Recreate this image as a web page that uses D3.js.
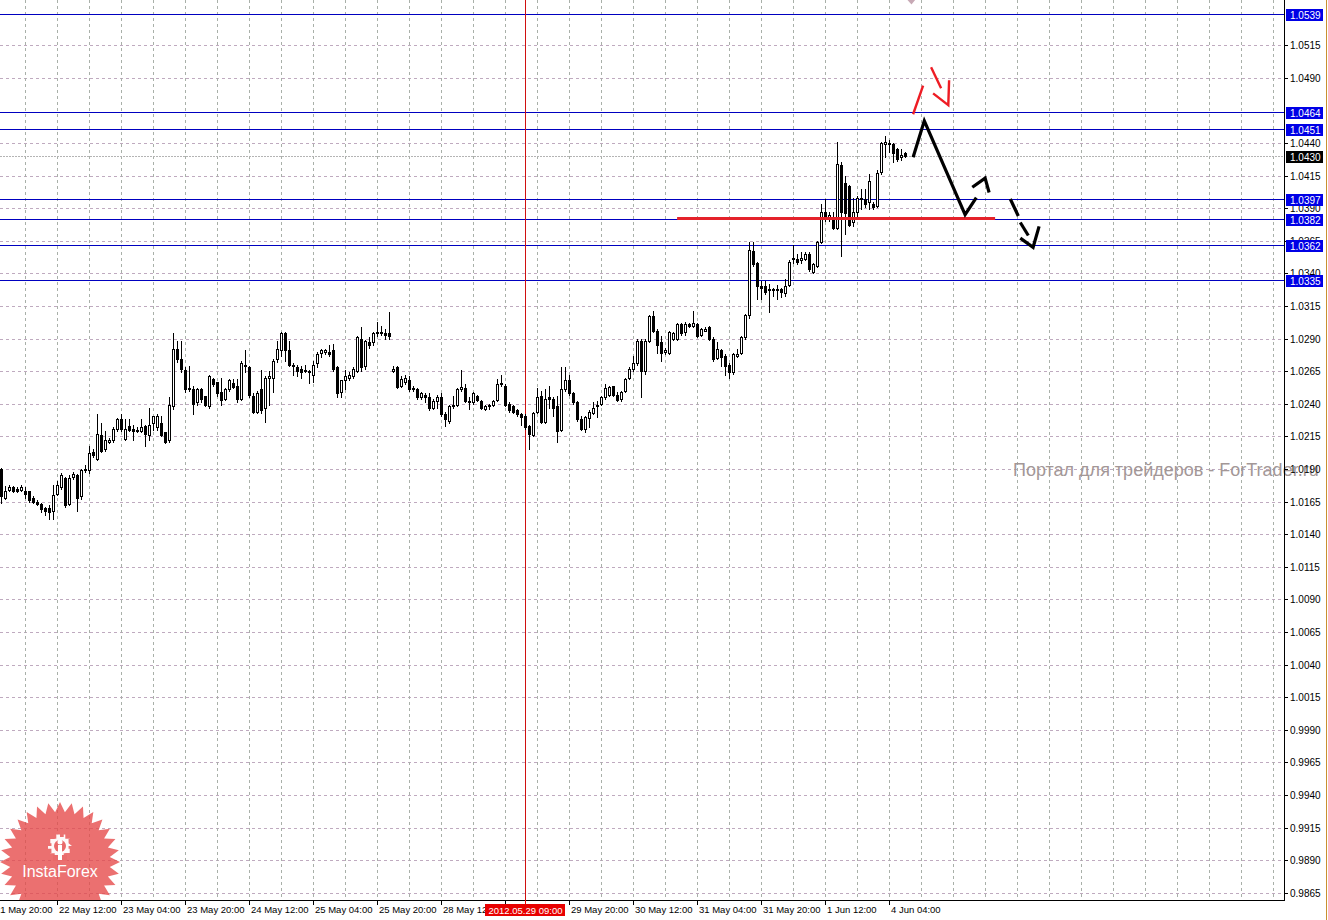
<!DOCTYPE html>
<html><head><meta charset="utf-8">
<script src="https://cdn.jsdelivr.net/npm/d3@7"></script>
<style>html,body{margin:0;padding:0;background:#fff;overflow:hidden}</style>
</head><body><svg id="c" width="1328" height="920"></svg>
<script>
// ---- data: hourly candles (bar index 0..226) ----
const opens = [1.0190,1.0168,1.0174,1.0176,1.0175,1.0174,1.0173,1.0173,1.0168,1.0165,1.0163,1.0160,1.0160,1.0158,1.0171,1.0176,1.0183,1.0163,1.0184,1.0185,1.0169,1.0189,1.0189,1.0203,1.0198,1.0216,1.0205,1.0211,1.0212,1.0221,1.0228,1.0213,1.0223,1.0221,1.0220,1.0219,1.0223,1.0216,1.0225,1.0222,1.0225,1.0218,1.0212,1.0238,1.0282,1.0274,1.0266,1.0252,1.0251,1.0241,1.0251,1.0246,1.0238,1.0259,1.0257,1.0249,1.0244,1.0251,1.0256,1.0254,1.0244,1.0269,1.0268,1.0246,1.0234,1.0251,1.0237,1.0260,1.0260,1.0274,1.0281,1.0294,1.0281,1.0270,1.0268,1.0267,1.0265,1.0265,1.0262,1.0271,1.0279,1.0280,1.0280,1.0281,1.0268,1.0249,1.0258,1.0260,1.0261,1.0265,1.0290,1.0269,1.0287,1.0287,1.0294,1.0295,1.0294,1.0294,1.0265,1.0268,
1.0254,1.0257,1.0258,1.0252,1.0251,1.0245,1.0247,1.0245,1.0237,1.0242,1.0245,1.0232,1.0227,1.0238,1.0239,1.0251,1.0252,1.0242,1.0241,1.0246,1.0242,1.0236,1.0238,1.0239,1.0243,1.0255,1.0254,1.0240,1.0238,1.0235,1.0232,1.0231,1.0223,1.0216,1.0234,1.0246,1.0226,1.0245,1.0244,1.0238,1.0220,1.0251,1.0258,1.0248,1.0241,1.0228,1.0221,1.0229,1.0233,1.0238,1.0240,1.0245,1.0247,1.0254,1.0247,1.0244,1.0250,1.0260,1.0267,1.0271,1.0288,1.0265,1.0288,1.0307,1.0296,1.0287,1.0280,1.0279,1.0290,1.0290,1.0301,1.0295,1.0301,1.0300,1.0301,1.0293,1.0296,1.0299,1.0290,1.0275,1.0281,1.0277,1.0270,1.0264,1.0277,1.0279,1.0291,
1.0308,1.0357,1.0348,1.0330,1.0330,1.0327,1.0328,1.0327,1.0328,1.0325,1.0331,1.0351,1.0351,1.0350,1.0351,1.0355,1.0341,1.0346,1.0364,1.0387,1.0383,1.0382,1.0375,1.0423,1.0409,1.0407,1.0379,1.0387,1.0398,1.0397,1.0395,1.0393,1.0392,1.0418,1.0439,1.0440,1.0439,1.0435,1.0429,1.0432];
const highs = [1.0191,1.0177,1.0178,1.0177,1.0176,1.0178,1.0176,1.0173,1.0169,1.0166,1.0164,1.0161,1.0162,1.0178,1.0181,1.0187,1.0184,1.0185,1.0188,1.0186,1.0190,1.0193,1.0208,1.0205,1.0232,1.0225,1.0219,1.0214,1.0222,1.0229,1.0232,1.0228,1.0228,1.0224,1.0222,1.0228,1.0224,1.0237,1.0231,1.0232,1.0231,1.0218,1.0245,1.0294,1.0288,1.0288,1.0268,1.0269,1.0254,1.0252,1.0252,1.0246,1.0262,1.0260,1.0257,1.0260,1.0252,1.0259,1.0259,1.0259,1.0273,1.0281,1.0269,1.0248,1.0250,1.0266,1.0261,1.0265,1.0274,1.0288,1.0295,1.0295,1.0288,1.0271,1.0270,1.0269,1.0270,1.0266,1.0273,1.0280,1.0282,1.0282,1.0285,1.0286,1.0269,1.0258,1.0266,1.0264,1.0268,1.0292,1.0299,1.0289,1.0291,1.0295,1.0303,1.0300,1.0297,1.0310,1.0269,1.0269,
1.0261,1.0262,1.0261,1.0254,1.0252,1.0249,1.0248,1.0248,1.0244,1.0247,1.0248,1.0234,1.0239,1.0246,1.0252,1.0266,1.0255,1.0245,1.0249,1.0247,1.0243,1.0239,1.0240,1.0243,1.0259,1.0262,1.0255,1.0241,1.0239,1.0236,1.0233,1.0232,1.0224,1.0234,1.0252,1.0250,1.0251,1.0254,1.0245,1.0246,1.0268,1.0268,1.0262,1.0249,1.0242,1.0231,1.0231,1.0235,1.0241,1.0242,1.0246,1.0255,1.0254,1.0254,1.0249,1.0250,1.0260,1.0268,1.0277,1.0290,1.0290,1.0290,1.0308,1.0311,1.0297,1.0292,1.0283,1.0296,1.0295,1.0302,1.0302,1.0303,1.0302,1.0311,1.0302,1.0298,1.0299,1.0300,1.0291,1.0287,1.0282,1.0278,1.0271,1.0279,1.0282,1.0292,1.0309,
1.0364,1.0364,1.0349,1.0334,1.0334,1.0332,1.0329,1.0331,1.0329,1.0336,1.0350,1.0362,1.0355,1.0356,1.0356,1.0356,1.0348,1.0365,1.0393,1.0397,1.0387,1.0387,1.0441,1.0425,1.0415,1.0408,1.0398,1.0399,1.0405,1.0405,1.0416,1.0395,1.0419,1.0441,1.0445,1.0442,1.0440,1.0436,1.0435,1.0433];
const lows = [1.0164,1.0167,1.0173,1.0172,1.0172,1.0173,1.0168,1.0165,1.0164,1.0162,1.0157,1.0155,1.0152,1.0152,1.0170,1.0175,1.0161,1.0162,1.0182,1.0158,1.0167,1.0188,1.0187,1.0199,1.0197,1.0203,1.0204,1.0210,1.0211,1.0219,1.0219,1.0212,1.0219,1.0212,1.0218,1.0218,1.0208,1.0212,1.0220,1.0220,1.0215,1.0210,1.0211,1.0236,1.0272,1.0264,1.0249,1.0250,1.0232,1.0239,1.0241,1.0238,1.0237,1.0254,1.0246,1.0239,1.0243,1.0250,1.0252,1.0241,1.0243,1.0264,1.0245,1.0233,1.0233,1.0233,1.0226,1.0239,1.0249,1.0272,1.0277,1.0273,1.0269,1.0262,1.0261,1.0260,1.0264,1.0256,1.0257,1.0268,1.0276,1.0278,1.0277,1.0265,1.0245,1.0245,1.0251,1.0258,1.0260,1.0264,1.0265,1.0267,1.0283,1.0285,1.0292,1.0293,1.0290,1.0290,1.0264,1.0252,
1.0253,1.0255,1.0250,1.0250,1.0244,1.0244,1.0241,1.0235,1.0236,1.0237,1.0231,1.0223,1.0225,1.0237,1.0238,1.0250,1.0241,1.0236,1.0240,1.0242,1.0236,1.0235,1.0236,1.0238,1.0242,1.0254,1.0238,1.0234,1.0233,1.0231,1.0224,1.0221,1.0205,1.0215,1.0233,1.0225,1.0225,1.0237,1.0231,1.0211,1.0219,1.0250,1.0247,1.0240,1.0227,1.0220,1.0218,1.0222,1.0232,1.0230,1.0239,1.0244,1.0246,1.0246,1.0242,1.0242,1.0249,1.0259,1.0265,1.0270,1.0245,1.0263,1.0287,1.0295,1.0279,1.0273,1.0278,1.0278,1.0289,1.0289,1.0293,1.0293,1.0299,1.0299,1.0291,1.0292,1.0296,1.0289,1.0273,1.0274,1.0269,1.0262,1.0260,1.0263,1.0276,1.0278,1.0290,
1.0306,1.0346,1.0320,1.0320,1.0324,1.0310,1.0323,1.0320,1.0322,1.0323,1.0330,1.0348,1.0347,1.0348,1.0350,1.0342,1.0340,1.0345,1.0363,1.0380,1.0380,1.0374,1.0374,1.0353,1.0370,1.0376,1.0376,1.0383,1.0389,1.0391,1.0389,1.0389,1.0391,1.0416,1.0429,1.0433,1.0425,1.0426,1.0427,1.0429];
const closes = [1.0169,1.0173,1.0176,1.0173,1.0173,1.0176,1.0171,1.0166,1.0165,1.0163,1.0159,1.0158,1.0157,1.0170,1.0178,1.0185,1.0162,1.0183,1.0186,1.0168,1.0189,1.0190,1.0202,1.0201,1.0217,1.0204,1.0212,1.0212,1.0221,1.0228,1.0221,1.0221,1.0220,1.0219,1.0219,1.0222,1.0217,1.0224,1.0231,1.0231,1.0216,1.0211,1.0239,1.0282,1.0274,1.0267,1.0251,1.0251,1.0240,1.0251,1.0244,1.0239,1.0261,1.0255,1.0248,1.0243,1.0251,1.0258,1.0253,1.0244,1.0271,1.0270,1.0247,1.0234,1.0248,1.0235,1.0260,1.0261,1.0273,1.0282,1.0294,1.0281,1.0270,1.0269,1.0265,1.0264,1.0266,1.0264,1.0270,1.0278,1.0281,1.0281,1.0278,1.0267,1.0248,1.0258,1.0261,1.0262,1.0267,1.0291,1.0268,1.0288,1.0285,1.0294,1.0295,1.0294,1.0293,1.0292,1.0267,1.0253,
1.0259,1.0260,1.0251,1.0251,1.0245,1.0248,1.0245,1.0237,1.0242,1.0245,1.0232,1.0228,1.0238,1.0239,1.0251,1.0253,1.0242,1.0241,1.0248,1.0243,1.0237,1.0238,1.0239,1.0242,1.0255,1.0256,1.0239,1.0235,1.0234,1.0232,1.0230,1.0222,1.0217,1.0233,1.0245,1.0226,1.0244,1.0244,1.0237,1.0219,1.0251,1.0258,1.0248,1.0241,1.0228,1.0221,1.0230,1.0234,1.0237,1.0239,1.0245,1.0252,1.0253,1.0247,1.0243,1.0249,1.0259,1.0267,1.0271,1.0288,1.0265,1.0288,1.0307,1.0296,1.0285,1.0279,1.0281,1.0295,1.0294,1.0301,1.0294,1.0301,1.0300,1.0302,1.0292,1.0297,1.0297,1.0290,1.0274,1.0282,1.0276,1.0269,1.0264,1.0278,1.0278,1.0291,1.0308,
1.0358,1.0347,1.0330,1.0329,1.0326,1.0328,1.0327,1.0328,1.0326,1.0330,1.0349,1.0352,1.0349,1.0352,1.0355,1.0343,1.0347,1.0364,1.0387,1.0384,1.0385,1.0375,1.0424,1.0387,1.0386,1.0377,1.0387,1.0398,1.0397,1.0393,1.0411,1.0391,1.0417,1.0440,1.0441,1.0439,1.0432,1.0428,1.0431,1.0430];

const timeLabels = ["21 May 20:00","22 May 12:00","23 May 04:00","23 May 20:00","24 May 12:00","25 May 04:00","25 May 20:00","28 May 12:00","29 May 04:00","29 May 20:00","30 May 12:00","31 May 04:00","31 May 20:00","1 Jun 12:00","4 Jun 04:00"];
const timeLabelBars = [-2,14,30,46,62,78,94,110,126,142,158,174,190,206,222];
const gridBars = [6,14,22,30,38,46,54,62,70,78,86,94,102,110,118,126,134,142,150,158,166,174,182,190,198,206,214,222,230,238,246,254,262,270,278,286,294,302,310,318];
const priceTicks = [0.9865,0.9890,0.9915,0.9940,0.9965,0.9990,1.0015,1.0040,1.0065,1.0090,1.0115,1.0140,1.0165,1.0190,1.0215,1.0240,1.0265,1.0290,1.0315,1.0340,1.0365,1.0390,1.0415,1.0440,1.0490,1.0515];
const levelPrices = [1.0539,1.0464,1.0451,1.0397,1.0382,1.0362,1.0335];
const currentPrice = 1.0430;
const supportLevel = [1.0382, 168.9, 248.4];
const markerBar = 131;
const markerLabel = "2012.05.29 09:00";
const forecastPaths = [
  [[227.9,1.0429],[230.7,1.0457],[240.9,1.0385],[243.7,1.0398]],
  [[242.7,1.0406],[245.9,1.0413],[246.9,1.0402]],
  [[252.2,1.0397],[254.2,1.0384]],
  [[254.7,1.0379],[256.7,1.0369]],
  [[254.7,1.0367],[257.9,1.0360],[259.4,1.0376]]
];
const redPaths = [
  [[227.9,1.0462],[230.4,1.0484]],
  [[232.4,1.0498],[234.9,1.0482]],
  [[232.9,1.0478],[236.7,1.0469],[236.9,1.0488]]
];

// ---- drawing ----
const svg = d3.select("#c");
const W = 1328, H = 920, plotR = 1284, plotB = 900;
const x = d3.scaleLinear().domain([0, 320]).range([1.5, 1281.5]);
const y = d3.scaleLinear().domain([0.98595, 1.05496]).range([plotB, 0]);
const py = v => Math.round(y(v));
const FONT = "'Liberation Sans', Arial, sans-serif";
const AX = 10;

svg.append("rect").attr("width", W).attr("height", H).attr("fill", "#fff");

const plot = svg.append("g");
plot.append("clipPath").attr("id","pc").append("rect").attr("width", plotR).attr("height", plotB);
const pg = plot.append("g").attr("clip-path","url(#pc)");

// grid
pg.selectAll(".hg").data(priceTicks).join("line")
  .attr("x1", 0).attr("x2", plotR)
  .attr("y1", d => py(d) + 0.5).attr("y2", d => py(d) + 0.5)
  .attr("stroke", "#bfaabf").attr("stroke-dasharray", "3,3");
pg.selectAll(".vg").data(gridBars).join("line")
  .attr("x1", d => x(d)).attr("x2", d => x(d))
  .attr("y1", 0).attr("y2", plotB)
  .attr("stroke", "#a9b0a9").attr("stroke-dasharray", "3,3");

// InstaForex starburst logo
const cx0 = 60, cy0 = 862, nPts = 32;
const star = d3.range(nPts * 2).map(k => {
  const r = k % 2 === 0 ? 60 : 50;
  const a = Math.PI * k / nPts - Math.PI / 2;
  return [cx0 + r * Math.cos(a), cy0 + r * Math.sin(a)];
});
pg.append("path").attr("d", d3.line()(star) + "Z").attr("fill", "#e54848").attr("opacity", 0.78);
const gear = d3.range(20).map(k => {
  const r = k % 2 === 0 ? 12 : 9;
  const a = Math.PI * 2 * k / 20;
  return [60 + r * Math.cos(a), 846 + r * Math.sin(a)];
});
pg.append("path").attr("d", d3.line().curve(d3.curveStepAfter)(gear) + "Z").attr("fill", "#fff").attr("opacity", 0.95);
pg.append("circle").attr("cx", 60).attr("cy", 846).attr("r", 6).attr("fill", "#e96a6a");
pg.append("rect").attr("x", 53).attr("y", 855).attr("width", 14).attr("height", 6).attr("fill", "#e96a6a");
pg.append("rect").attr("x", 58).attr("y", 845).attr("width", 4).attr("height", 15).attr("fill", "#fff");
pg.append("circle").attr("cx", 60).attr("cy", 842).attr("r", 2.5).attr("fill", "#fff");
pg.append("text").attr("x", 60).attr("y", 877).attr("text-anchor", "middle")
  .attr("font-family", FONT).attr("font-size", 16).attr("fill", "#fff").text("InstaForex");

// level lines
pg.selectAll(".lvl").data(levelPrices).join("line")
  .attr("x1", 0).attr("x2", plotR)
  .attr("y1", d => py(d) + 0.5).attr("y2", d => py(d) + 0.5)
  .attr("stroke", "#0000c0").attr("stroke-width", 1);
// current price line
pg.append("line").attr("x1", 0).attr("x2", plotR)
  .attr("y1", py(currentPrice) + 0.5).attr("y2", py(currentPrice) + 0.5)
  .attr("stroke", "#b4b4b4").attr("stroke-dasharray", "2,1");
// marker vertical line
pg.append("line").attr("x1", x(markerBar)).attr("x2", x(markerBar))
  .attr("y1", 0).attr("y2", plotB).attr("stroke", "#d01010");

// watermark text
svg.append("text").attr("x", 1013).attr("y", 476)
  .attr("font-family", FONT).attr("font-size", 18).attr("fill", "#a39797")
  .text("Портал для трейдеров - ForTrader.ru");

// candles
const idx = d3.range(opens.length);
const cg = pg.append("g");
cg.selectAll(".wick").data(idx).join("rect")
  .attr("x", i => x(i) - 0.5).attr("width", 1)
  .attr("y", i => py(highs[i])).attr("height", i => py(lows[i]) - py(highs[i]) + 1)
  .attr("fill", "#000");
cg.selectAll(".body").data(idx).join("rect")
  .each(function(i) {
    const o = py(opens[i]), c = py(closes[i]);
    const top = Math.min(o, c), bot = Math.max(o, c);
    const s = d3.select(this);
    if (closes[i] < opens[i] || bot - top < 2) {
      s.attr("x", x(i) - 1.5).attr("width", 3).attr("y", top).attr("height", Math.max(1, bot - top + 1)).attr("fill", "#000");
    } else {
      s.attr("x", x(i) - 1).attr("width", 2).attr("y", top + 0.5).attr("height", bot - top)
        .attr("fill", "#fff").attr("stroke", "#000").attr("stroke-width", 1);
    }
  });

// support line (red)
pg.append("line").attr("x1", x(supportLevel[1])).attr("x2", x(supportLevel[2]))
  .attr("y1", y(supportLevel[0])).attr("y2", y(supportLevel[0]))
  .attr("stroke", "#e4222a").attr("stroke-width", 3);

// forecast annotations
const ln = d3.line().x(d => x(d[0])).y(d => y(d[1]));
pg.selectAll(".fc").data(forecastPaths).join("path")
  .attr("d", ln).attr("fill", "none").attr("stroke", "#000").attr("stroke-width", 3.2)
  .attr("stroke-linejoin", "miter");
pg.selectAll(".rd").data(redPaths).join("path")
  .attr("d", ln).attr("fill", "none").attr("stroke", "#ee1c24").attr("stroke-width", 2.4);
pg.append("path").attr("d", ln([[226.5,1.05496],[228.4,1.05496],[227.5,1.05461]]) + "Z").attr("fill", "#c7a9b5");

// axes frame
svg.append("line").attr("x1", plotR + 0.5).attr("x2", plotR + 0.5).attr("y1", 0).attr("y2", plotB + 1).attr("stroke", "#000");
svg.append("line").attr("x1", 0).attr("x2", plotR + 1).attr("y1", plotB + 0.5).attr("y2", plotB + 0.5).attr("stroke", "#000");

// right axis ticks + labels
const ra = svg.append("g");
ra.selectAll(".tk").data(priceTicks).join("line")
  .attr("x1", plotR).attr("x2", plotR + 4).attr("y1", d => py(d) + 0.5).attr("y2", d => py(d) + 0.5).attr("stroke", "#000");
ra.selectAll(".tl").data(priceTicks).join("text")
  .attr("x", 1290).attr("y", d => py(d) + 4)
  .attr("font-family", FONT).attr("font-size", AX).attr("fill", "#000")
  .text(d => d3.format(".4f")(d));
const boxes = levelPrices.map(p => ({p, bg: "#0000e6"})).concat([{p: currentPrice, bg: "#000"}]);
const bx = ra.selectAll(".bx").data(boxes).join("g");
bx.append("rect").attr("x", 1286).attr("y", d => py(d.p) - 5).attr("width", 37).attr("height", 12).attr("fill", d => d.bg);
bx.append("text").attr("x", 1290).attr("y", d => py(d.p) + 4.5)
  .attr("font-family", FONT).attr("font-size", AX).attr("fill", "#fff")
  .text(d => d3.format(".4f")(d.p));

// bottom axis
const ba = svg.append("g");
ba.selectAll(".bt").data(timeLabelBars).join("line")
  .attr("x1", d => x(d)).attr("x2", d => x(d)).attr("y1", plotB).attr("y2", plotB + 5).attr("stroke", "#000");
ba.selectAll(".bl").data(timeLabels).join("text")
  .attr("x", (d, k) => x(timeLabelBars[k]) + 1.5).attr("y", 913)
  .attr("font-family", FONT).attr("font-size", 9.5).attr("fill", "#000").text(d => d);
ba.append("rect").attr("x", x(markerBar) - 40.5).attr("y", 904).attr("width", 80).attr("height", 12).attr("fill", "#e80000");
ba.append("text").attr("x", x(markerBar)).attr("y", 913.5).attr("text-anchor", "middle")
  .attr("font-family", FONT).attr("font-size", 9.5).attr("fill", "#fff").text(markerLabel);
ba.append("line").attr("x1", x(markerBar)).attr("x2", x(markerBar)).attr("y1", plotB).attr("y2", plotB + 4).attr("stroke", "#e80000");

// window edge
svg.append("line").attr("x1", 1326.5).attr("x2", 1326.5).attr("y1", 0).attr("y2", H).attr("stroke", "#c89030");
</script></body></html>
